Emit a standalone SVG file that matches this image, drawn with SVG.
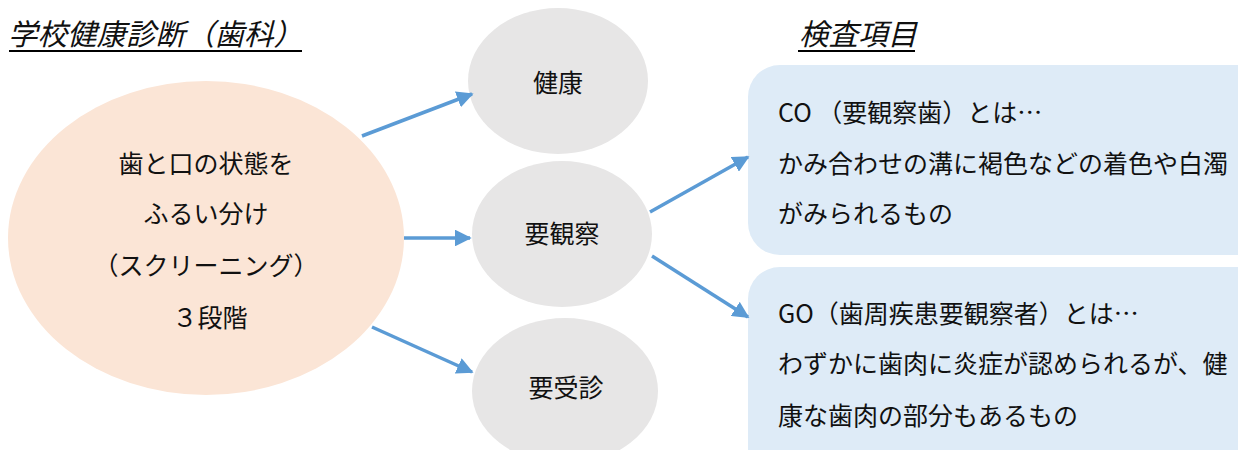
<svg xmlns="http://www.w3.org/2000/svg" width="1238" height="450" viewBox="0 0 1238 450">
<style>
text{font-family:"Noto Sans CJK JP","Noto Sans",sans-serif;fill:#111}
.t{font-size:25px}
.c{text-anchor:middle}
.h{font-size:29.5px;font-style:italic}
.ul{stroke:#000;stroke-width:2}
.g{fill:#E7E6E6}
.b{fill:#DEEBF7}
.a{stroke:#5B9BD5;stroke-width:3.5;fill:none;marker-end:url(#ah)}
</style>
<defs>
<marker id="ah" viewBox="0 0 10 10" refX="9" refY="5" markerWidth="4.8" markerHeight="4.8" markerUnits="strokeWidth" orient="auto"><path d="M0,0L10,5L0,10z" fill="#5B9BD5"/></marker>
</defs>
<rect width="1238" height="450" fill="#fff"/>
<g id="title1"><text class="h" x="8" y="45">学校健康診断（歯科）</text><line class="ul" x1="9" y1="51" x2="302" y2="51"/></g>
<g id="title2"><text class="h" x="799" y="45">検査項目</text><line class="ul" x1="798" y1="51" x2="915" y2="51"/></g>
<g id="main"><ellipse cx="206" cy="238" rx="198" ry="157" fill="#FBE5D6"/>
<text class="t c" x="206" y="173">歯と口の状態を</text>
<text class="t c" x="206" y="223">ふるい分け</text>
<text class="t c" x="206" y="275">（スクリーニング）</text>
<text class="t c" x="210" y="327">３段階</text></g>
<g id="kenko"><ellipse class="g" cx="558" cy="81" rx="90" ry="73"/><text class="t c" x="558" y="92">健康</text></g>
<g id="youkansatsu"><ellipse class="g" cx="562" cy="234" rx="90" ry="73"/><text class="t c" x="562" y="243">要観察</text></g>
<g id="youjushin"><ellipse class="g" cx="565" cy="391" rx="93" ry="73"/><text class="t c" x="566" y="397">要受診</text></g>
<g id="co"><rect class="b" x="748" y="65" width="530" height="190" rx="32"/>
<text class="t" x="778" y="122">CO （要観察歯）とは…</text>
<text class="t" x="778" y="173">かみ合わせの溝に褐色などの着色や白濁</text>
<text class="t" x="778" y="223">がみられるもの</text></g>
<g id="go"><rect class="b" x="748" y="267" width="530" height="220" rx="32"/>
<text class="t" x="778" y="323">GO（歯周疾患要観察者）とは…</text>
<text class="t" x="778" y="373">わずかに歯肉に炎症が認められるが、健</text>
<text class="t" x="778" y="425">康な歯肉の部分もあるもの</text></g>
<g id="connectors">
<line class="a" x1="362" y1="136" x2="472" y2="94"/>
<line class="a" x1="404" y1="238" x2="470" y2="238"/>
<line class="a" x1="372" y1="327" x2="472" y2="372"/>
<line class="a" x1="650" y1="212" x2="748" y2="157"/>
<line class="a" x1="652" y1="256" x2="748" y2="317"/>
</g>
</svg>
